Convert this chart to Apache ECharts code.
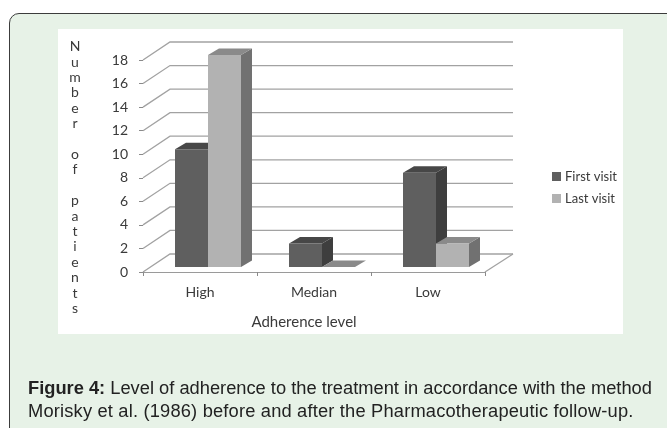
<!DOCTYPE html>
<html>
<head>
<meta charset="utf-8">
<style>
html, body { margin: 0; padding: 0; background: #fff; overflow: hidden; }
#frame { position: absolute; left: 9px; top: 13px; width: 700px; height: 500px; background: #e7f2e7; border: 1.5px solid #3c3c3c; border-radius: 10px; }
#panel { position: absolute; left: 58px; top: 29px; width: 565px; height: 305px; background: #fff; }
#chart { position: absolute; left: 0; top: 0; width: 667px; height: 428px; }
#caption { position: absolute; left: 28px; top: 376px; width: 639px; font: 18.3px/23px "Liberation Sans", Arial, sans-serif; color: #222; white-space: nowrap; }
#caption span { letter-spacing: 0.18px; }
</style>
<script src="https://cdn.jsdelivr.net/npm/echarts@6/dist/echarts.min.js"></script>
</head>
<body>
<div id="frame"></div>
<div id="panel"></div>
<div id="chart"></div>
<div id="caption"><b>Figure 4:</b> Level of adherence to the treatment in accordance with the method<br><span>Morisky et al. (1986) before and after the Pharmacotherapeutic follow-up.</span></div>
<script>
var categories = ['High', 'Median', 'Low'];
var firstVisit = [10, 2, 8];
var lastVisit = [18, 0, 2];
var yTicks = [0, 2, 4, 6, 8, 10, 12, 14, 16, 18];
var yTitle = 'N\nu\nm\nb\ne\nr\n\no\nf\n\np\na\nt\ni\ne\nn\nt\ns';

var chartFont = 'Lato';
var textColor = '#3a3a3a';

// wall and floor: the chart has a fake 3d look, so the gridlines are bent by hand
function renderWall(params, api) {
    var sys = params.coordSys;
    var y = api.coord([0, api.value(0)])[1];
    var left = sys.x, right = sys.x + sys.width;
    var children = [{
        type: 'polyline',
        shape: { points: [[left, y], [left + 27, y - 18], [right + 28, y - 18]] },
        style: { stroke: '#a2a2a2', lineWidth: 1.3, fill: null }
    }];
    if (api.value(0) === 0) {
        children.push({
            type: 'line',
            shape: { x1: right, y1: y, x2: right + 28, y2: y - 18 },
            style: { stroke: '#a2a2a2', lineWidth: 1.3 }
        });
    }
    return { type: 'group', children: children };
}

function box(front, top, side, slot) {
    return function (params, api) {
        var p0 = api.coord([api.value(0), 0]);
        var p1 = api.coord([api.value(0), api.value(1)]);
        var w = 33, dx = 11, dy = 6.5;
        var x0 = p0[0] + 8 - w + slot * w;      // the group sits a bit right of the band centre
        var x1 = x0 + w;
        var yb = p0[1] - 5, yt = p1[1] - 5;
        return {
            type: 'group',
            children: [
                { type: 'polygon', shape: { points: [[x1, yb], [x1 + dx, yb - dy], [x1 + dx, yt - dy], [x1, yt]] }, style: { fill: side } },
                { type: 'polygon', shape: { points: [[x0, yt], [x0 + dx, yt - dy], [x1 + dx, yt - dy], [x1, yt]] }, style: { fill: top } },
                { type: 'rect', shape: { x: x0, y: yt, width: w, height: yb - yt }, style: { fill: front } }
            ]
        };
    };
}

var chart = echarts.init(document.getElementById('chart'), null, { renderer: 'canvas' });

chart.setOption({
    backgroundColor: 'transparent',
    animation: false,
    textStyle: { fontFamily: chartFont, color: textColor },
    grid: { left: 143, top: 60, width: 342, height: 212, outerBoundsMode: 'none' },
    graphic: [{
        type: 'text',
        x: 75,
        y: 39,
        style: { text: yTitle, fontFamily: chartFont, fontSize: 14, lineHeight: 15.4, fill: textColor, align: 'center', verticalAlign: 'top' }
    }],
    legend: {
        data: ['First visit', 'Last visit'],
        orient: 'vertical',
        left: 547,
        top: 165,
        itemWidth: 9,
        itemHeight: 9,
        itemGap: 9,
        icon: 'rect',
        textStyle: { fontFamily: chartFont, fontSize: 13, color: textColor, padding: [0, 0, 0, -1] }
    },
    xAxis: {
        type: 'category',
        data: categories,
        name: 'Adherence level',
        nameLocation: 'middle',
        nameGap: 43,
        nameTextStyle: { fontFamily: chartFont, fontSize: 15, color: textColor, padding: [0, 20, 0, 0] },
        axisLine: { lineStyle: { color: '#9a9a9a', width: 1.2 } },
        axisTick: { show: true, length: 4, alignWithLabel: false, lineStyle: { color: '#8a8a8a' } },
        axisLabel: { fontFamily: chartFont, fontSize: 14, color: textColor, margin: 13 },
        splitLine: { show: false }
    },
    yAxis: {
        type: 'value',
        min: 0,
        max: 18,
        interval: 2,
        axisLine: { show: false },
        axisTick: { show: true, length: 4, lineStyle: { color: '#8a8a8a' } },
        axisLabel: { fontFamily: chartFont, fontSize: 14, color: textColor, margin: 15 },
        splitLine: { show: false }
    },
    series: [
        {
            type: 'custom',
            name: 'wall',
            renderItem: renderWall,
            data: yTicks.map(function (t) { return [t]; }),
            encode: { y: 0 },
            clip: false,
            silent: true
        },
        {
            type: 'custom',
            name: 'First visit',
            itemStyle: { color: '#5f5f5f' },
            renderItem: box('#5f5f5f', '#474747', '#3e3e3e', 0),
            data: firstVisit.map(function (v, i) { return [i, v]; }),
            encode: { x: 0, y: 1 },
            clip: false
        },
        {
            type: 'custom',
            name: 'Last visit',
            itemStyle: { color: '#b2b2b2' },
            renderItem: box('#b2b2b2', '#8a8a8a', '#717171', 1),
            data: lastVisit.map(function (v, i) { return [i, v]; }),
            encode: { x: 0, y: 1 },
            clip: false
        }
    ]
});
</script>
</body>
</html>
